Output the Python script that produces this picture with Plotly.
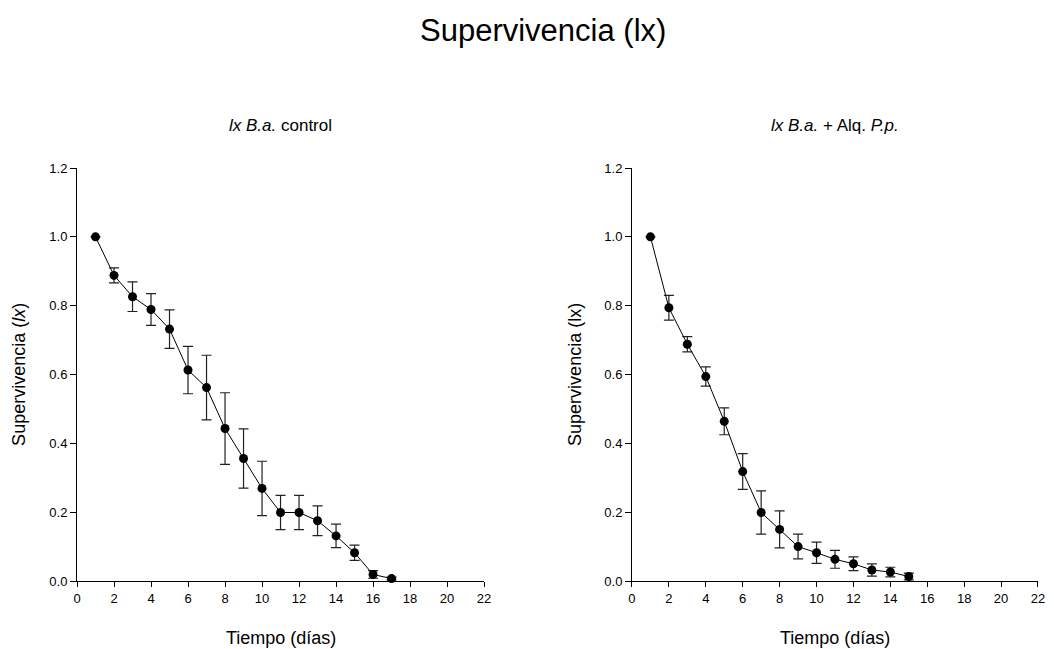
import plotly.graph_objects as go

dias_control = [1, 2, 3, 4, 5, 6, 7, 8, 9, 10, 11, 12, 13, 14, 15, 16, 17]
lx_control = [1.0, 0.888, 0.826, 0.789, 0.732, 0.613, 0.562, 0.443, 0.356, 0.269,
              0.199, 0.199, 0.175, 0.131, 0.082, 0.019, 0.007]
err_control = [0.0, 0.022, 0.043, 0.046, 0.056, 0.069, 0.094, 0.104, 0.086, 0.079,
               0.050, 0.050, 0.043, 0.034, 0.022, 0.011, 0.004]

dias_alq = [1, 2, 3, 4, 5, 6, 7, 8, 9, 10, 11, 12, 13, 14, 15]
lx_alq = [1.0, 0.794, 0.688, 0.594, 0.464, 0.318, 0.199, 0.150, 0.100, 0.082,
          0.063, 0.050, 0.032, 0.026, 0.013]
err_alq = [0.0, 0.036, 0.022, 0.028, 0.039, 0.052, 0.063, 0.054, 0.036, 0.031,
           0.026, 0.020, 0.018, 0.014, 0.010]

x_ticks = [0, 2, 4, 6, 8, 10, 12, 14, 16, 18, 20, 22]
y_ticks = [0.0, 0.2, 0.4, 0.6, 0.8, 1.0, 1.2]

FONT = "Liberation Sans, Arial, sans-serif"

fig = go.Figure()


def add_series(x, y, e, xa, ya):
    fig.add_trace(go.Scatter(
        x=x, y=y, xaxis=xa, yaxis=ya, mode="lines+markers",
        line=dict(color="black", width=1),
        marker=dict(color="black", size=9, symbol="circle"),
        error_y=dict(type="data", array=e, visible=True, color="#222222",
                     thickness=1.2, width=5),
        cliponaxis=False, showlegend=False,
    ))


add_series(dias_control, lx_control, err_control, "x", "y")
add_series(dias_alq, lx_alq, err_alq, "x2", "y2")

xaxis_common = dict(range=[0, 22], tickvals=x_ticks, ticks="outside", ticklen=5,
                    tickwidth=1, tickcolor="black", showline=True, linecolor="black",
                    linewidth=1, showgrid=False, zeroline=False,
                    tickfont=dict(family=FONT, size=13, color="black"))
yaxis_common = dict(range=[0, 1.2], tickvals=y_ticks, tickformat=".1f", ticks="outside",
                    ticklen=6, tickwidth=1, tickcolor="black", showline=True,
                    linecolor="black", linewidth=1, showgrid=False, zeroline=False,
                    tickfont=dict(family=FONT, size=13, color="black"))

fig.update_layout(
    width=1046, height=641,
    margin=dict(l=69, r=9, t=160, b=68),
    paper_bgcolor="white", plot_bgcolor="white",
    font=dict(family=FONT, color="black"),
    xaxis=dict(domain=[0, 0.4236], anchor="y", **xaxis_common),
    yaxis=dict(domain=[0, 1], anchor="x", **yaxis_common),
    xaxis2=dict(domain=[0.5775, 1], anchor="y2", **xaxis_common),
    yaxis2=dict(domain=[0, 1], anchor="x2", **yaxis_common),
)

annotations = [
    dict(text="Supervivencia (lx)", x=0.4845, y=1.332, font=dict(size=31)),
    dict(text="<i>lx B.a.</i> control", x=0.2118, y=1.104, font=dict(size=17)),
    dict(text="<i>lx B.a.</i> + Alq. <i>P.p.</i>", x=0.7887, y=1.104, font=dict(size=17)),
    dict(text="Tiempo (días)", x=0.2118, y=-0.1375, font=dict(size=18)),
    dict(text="Tiempo (días)", x=0.7887, y=-0.1375, font=dict(size=18)),
    dict(text="Supervivencia (<i>lx</i>)", x=-0.0610, y=0.5, textangle=-90, font=dict(size=18)),
    dict(text="Supervivencia (lx)", x=0.5176, y=0.5, textangle=-90, font=dict(size=18)),
]
for a in annotations:
    fig.add_annotation(xref="paper", yref="paper", showarrow=False,
                       xanchor="center", yanchor="middle",
                       font=dict(family=FONT, color="black", size=a["font"]["size"]),
                       **{k: v for k, v in a.items() if k != "font"})

fig.write_html("out.html")
